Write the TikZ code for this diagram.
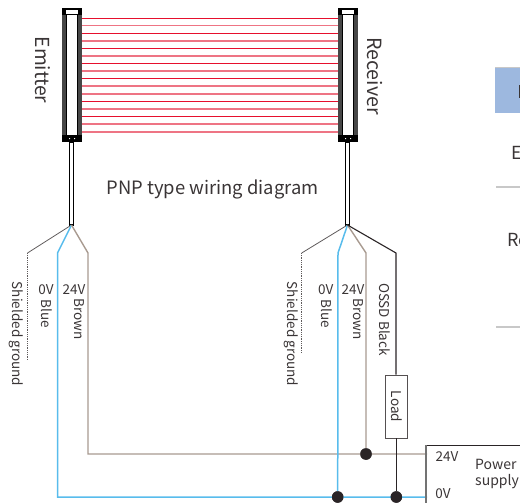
\documentclass[tikz,border=0pt]{standalone}
\usepackage{fontspec}
\setmainfont{Noto Sans CJK SC}
\definecolor{txt}{HTML}{3A3536}
\definecolor{raydark}{HTML}{E60F2D}
\definecolor{raylight}{HTML}{EE7484}
\definecolor{wireblue}{HTML}{58BCEC}
\definecolor{wirebrown}{HTML}{A89A90}
\definecolor{wireblack}{HTML}{2A2426}
\definecolor{headblue}{HTML}{9DB8DF}
\definecolor{rulegrey}{HTML}{C8C8C8}
\newcommand{\fs}[1]{\fontsize{#1}{#1}\selectfont}
\tikzset{
  x=1pt,y=-1pt,
  lbl/.style={inner sep=0pt,text=txt,font=\fs{13.5}},
  vlbl/.style={lbl,rotate=-90},
  biglbl/.style={inner sep=0pt,text=txt,font=\fs{18.4}},
  blue wire/.style={wireblue,line width=1.5pt},
  brown wire/.style={wirebrown,line width=1.4pt},
  black wire/.style={wireblack,line width=1.1pt},
  gnd wire/.style={wireblack!75,line width=.8pt},
  dot/.style={circle,fill=wireblack,inner sep=0pt,minimum size=11.5pt},
  ray dark/.style={raydark,line width=1pt},
  ray light/.style={raylight,line width=1.6pt},
}
\newcommand{\sensor}[2]{% left x, name
  \fill[white] (#1,8) rectangle ++(20,134);
  \fill[black!72] (#1,12) rectangle ++(4.5,125);
  \fill[black!72] (#1+15.5,12) rectangle ++(4.5,125);
  \draw[black,line width=.8pt] (#1+4.5,12) -- (#1+4.5,137) (#1+15.5,12) -- (#1+15.5,137);
  \fill[black] (#1,8) rectangle (#1+20,15.5);
  \fill[white] (#1+4,10.5) rectangle (#1+16,14);
  \fill[black] (#1,135) rectangle (#1+20,142);
  \fill[white] (#1+7,138) rectangle ++(1,1) (#1+12,138) rectangle ++(1,1);
  \draw[black,line width=1.1pt,fill=white] (#1+7.5,142) rectangle (#1+11.5,225);
}
\begin{document}
\begin{tikzpicture}
\useasboundingbox (0,0) rectangle (520,503);
% rays
\foreach \ya/\yb in {18.3/25.7,33.3/41,48.3/56,63.3/71,78.7/86.3,101.3/109,116.7/124}{
  \draw[ray dark] (82,\ya) -- (338,\ya);
  \draw[ray light] (82,\yb) -- (338,\yb);
}
\draw[ray light] (82,94) -- (338,94);
\draw[ray light] (82,131.7) -- (338,131.7);
% sensors
\sensor{62}{e}
\sensor{338}{r}
% junctions and bends
\coordinate (ej) at (71.5,225);
\coordinate (eg1) at (27.5,253); \coordinate (eg2) at (27.5,360);
\coordinate (eb1) at (57.5,253);
\coordinate (en1) at (88,253);
\coordinate (rj) at (347.5,225);
\coordinate (rg1) at (301.7,253); \coordinate (rg2) at (301.7,353);
\coordinate (rb1) at (338,253);
\coordinate (rn1) at (366,253);
\coordinate (ro1) at (396,253);
% load and power supply
\node[draw=wireblack!80,line width=.9pt,fill=white,minimum width=22.5pt,minimum height=63pt,inner sep=0pt] (load) at (396.3,406.5) {};
\node[vlbl] (loadt) at (396.3,406.5) {Load};
\coordinate (pt) at (427,454);
\coordinate (pb) at (427,497);
\node[dot] (d1) at (366,454) {};
\node[dot] (d2) at (337.7,497) {};
\node[dot] (d3) at (396.3,497) {};
% wires
\draw[gnd wire] (ej) -- (eg1);
\draw[gnd wire,densely dotted] (eg1) -- (eg2);
\draw[blue wire] (ej) -- (eb1) |- (pb);
\draw[brown wire] (ej) -- (en1) |- (pt);
\draw[gnd wire] (rj) -- (rg1);
\draw[gnd wire,densely dotted] (rg1) -- (rg2);
\draw[blue wire] (rj) -- (rb1) -- (d2);
\draw[brown wire] (rj) -- (rn1) -- (d1);
\draw[black wire] (rj) -- (ro1) -- (load.north -| ro1);
\draw[black wire] (load.south) -- (d3);
\node[dot] at (d1) {};
\node[dot] at (d2) {};
\node[dot] at (d3) {};
% power box
\draw[wireblack,line width=.9pt] (426,445.5) -- (520,445.5);
\draw[black!55,line width=1.3pt] (426,445) -- (426,503);
\node[lbl,anchor=center] (p24) at (447,457) {24V};
\node[lbl,anchor=center] (p0) at (443,494) {0V};
\node[lbl,anchor=west,font=\fs{14}] (pw) at (475,464.5) {Power};
\node[lbl,anchor=west,font=\fs{14}] (ps) at (475,481.5) {supply};
% titles
\node[vlbl,font=\fs{19.3}] (emit) at (42.5,70) {Emitter};
\node[vlbl,font=\fs{19.6}] (recv) at (375,76) {Receiver};
\node[biglbl] (title) at (212.5,189) {PNP type wiring diagram};
% emitter labels
\node[vlbl] (a1) at (16,334) {Shielded ground};
\node[lbl] (a2) at (46,290) {0V};
\node[vlbl] (a3) at (46.5,313.5) {Blue};
\node[lbl] (a4) at (74,290) {24V};
\node[vlbl] (a5) at (79,319) {Brown};
% receiver labels
\node[vlbl] (b1) at (291,334) {Shielded ground};
\node[lbl] (b2) at (325.7,290) {0V};
\node[vlbl] (b3) at (326.5,313.5) {Blue};
\node[lbl] (b4) at (353,290) {24V};
\node[vlbl] (b5) at (358,319) {Brown};
\node[vlbl] (b6) at (385,319.5) {OSSD Black};
% table fragment
\fill[headblue] (495,68) rectangle (520,113);
\draw[rulegrey,line width=1.2pt] (495,67.5) -- (520,67.5);
\draw[rulegrey,line width=1.2pt] (496,187) -- (520,187);
\draw[rulegrey,line width=1.2pt] (496,327) -- (520,327);
\node[biglbl,anchor=base west,font=\fs{18}] (c1) at (511.5,159) {E};
\node[biglbl,anchor=base west,font=\fs{18}] (c2) at (507,246.5) {Re};
\fill[txt] (519,85) rectangle (520,98);
\end{tikzpicture}
\end{document}
